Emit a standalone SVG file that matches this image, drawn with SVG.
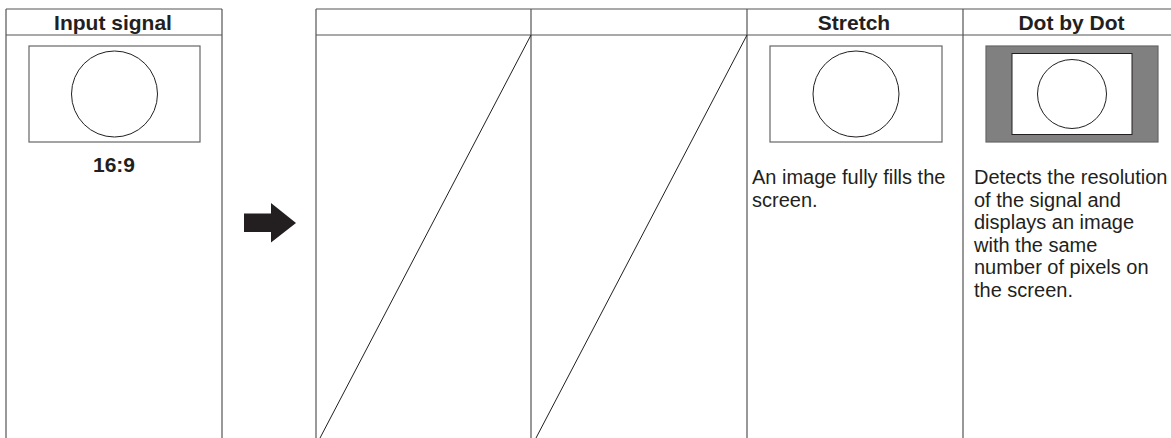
<svg xmlns="http://www.w3.org/2000/svg" width="1171" height="438" viewBox="0 0 1171 438">
  <style>
    .grid { stroke: #555555; stroke-width: 1.2; fill: none; }
    .frame { stroke: #666666; stroke-width: 1.2; fill: #ffffff; }
    .circ { stroke: #231f20; stroke-width: 1; fill: #ffffff; }
    .diag { stroke: #231f20; stroke-width: 1; }
    .head { font-family: "Liberation Sans", Arial, sans-serif; font-weight: bold; font-size: 21px; fill: #231f20; text-anchor: middle; }
    .body { font-family: "Liberation Sans", Arial, sans-serif; font-size: 20px; fill: #231f20; }
  </style>
  <rect width="1171" height="438" fill="#ffffff"/>

  <g id="input-signal">
    <path class="grid" d="M6 9 H222 M6 35 H222 M6 9 V438 M222 9 V438"/>
    <text class="head" x="113" y="30">Input signal</text>
    <rect class="frame" x="29" y="46" width="171" height="96"/>
    <circle class="circ" cx="114.5" cy="94" r="43"/>
    <text class="head" x="114" y="172">16:9</text>
  </g>

  <g id="connectors">
    <polygon fill="#231f20" points="244,213.5 271,213.5 271,203 296,223 271,242.5 271,232 244,232"/>
  </g>

  <g id="table">
    <path class="grid" d="M316 9 H1171 M316 35 H1171 M316 9 V438 M531 9 V438 M747 9 V438 M963 9 V438"/>
  </g>

  <g id="col-blank-1">
    <line class="diag" x1="531" y1="35" x2="320" y2="438"/>
  </g>

  <g id="col-blank-2">
    <line class="diag" x1="747" y1="35" x2="536" y2="438"/>
  </g>

  <g id="col-stretch">
    <text class="head" x="854" y="30">Stretch</text>
    <rect class="frame" x="770" y="46" width="172" height="96"/>
    <circle class="circ" cx="856" cy="94" r="43"/>
    <text class="body" x="752" y="184">An image fully fills the</text>
    <text class="body" x="752" y="206.5">screen.</text>
  </g>

  <g id="col-dot-by-dot">
    <text class="head" x="1071.5" y="30">Dot by Dot</text>
    <rect x="986" y="46" width="172" height="96" fill="#808080" stroke="#666666" stroke-width="1.2"/>
    <rect x="1012" y="53.5" width="120" height="81" fill="#ffffff" stroke="#231f20" stroke-width="1"/>
    <circle class="circ" cx="1072" cy="94" r="34.5"/>
    <text class="body" x="974" y="184">Detects the resolution</text>
    <text class="body" x="974" y="206.5">of the signal and</text>
    <text class="body" x="974" y="229">displays an image</text>
    <text class="body" x="974" y="251.5">with the same</text>
    <text class="body" x="974" y="274">number of pixels on</text>
    <text class="body" x="974" y="296.5">the screen.</text>
  </g>
</svg>
